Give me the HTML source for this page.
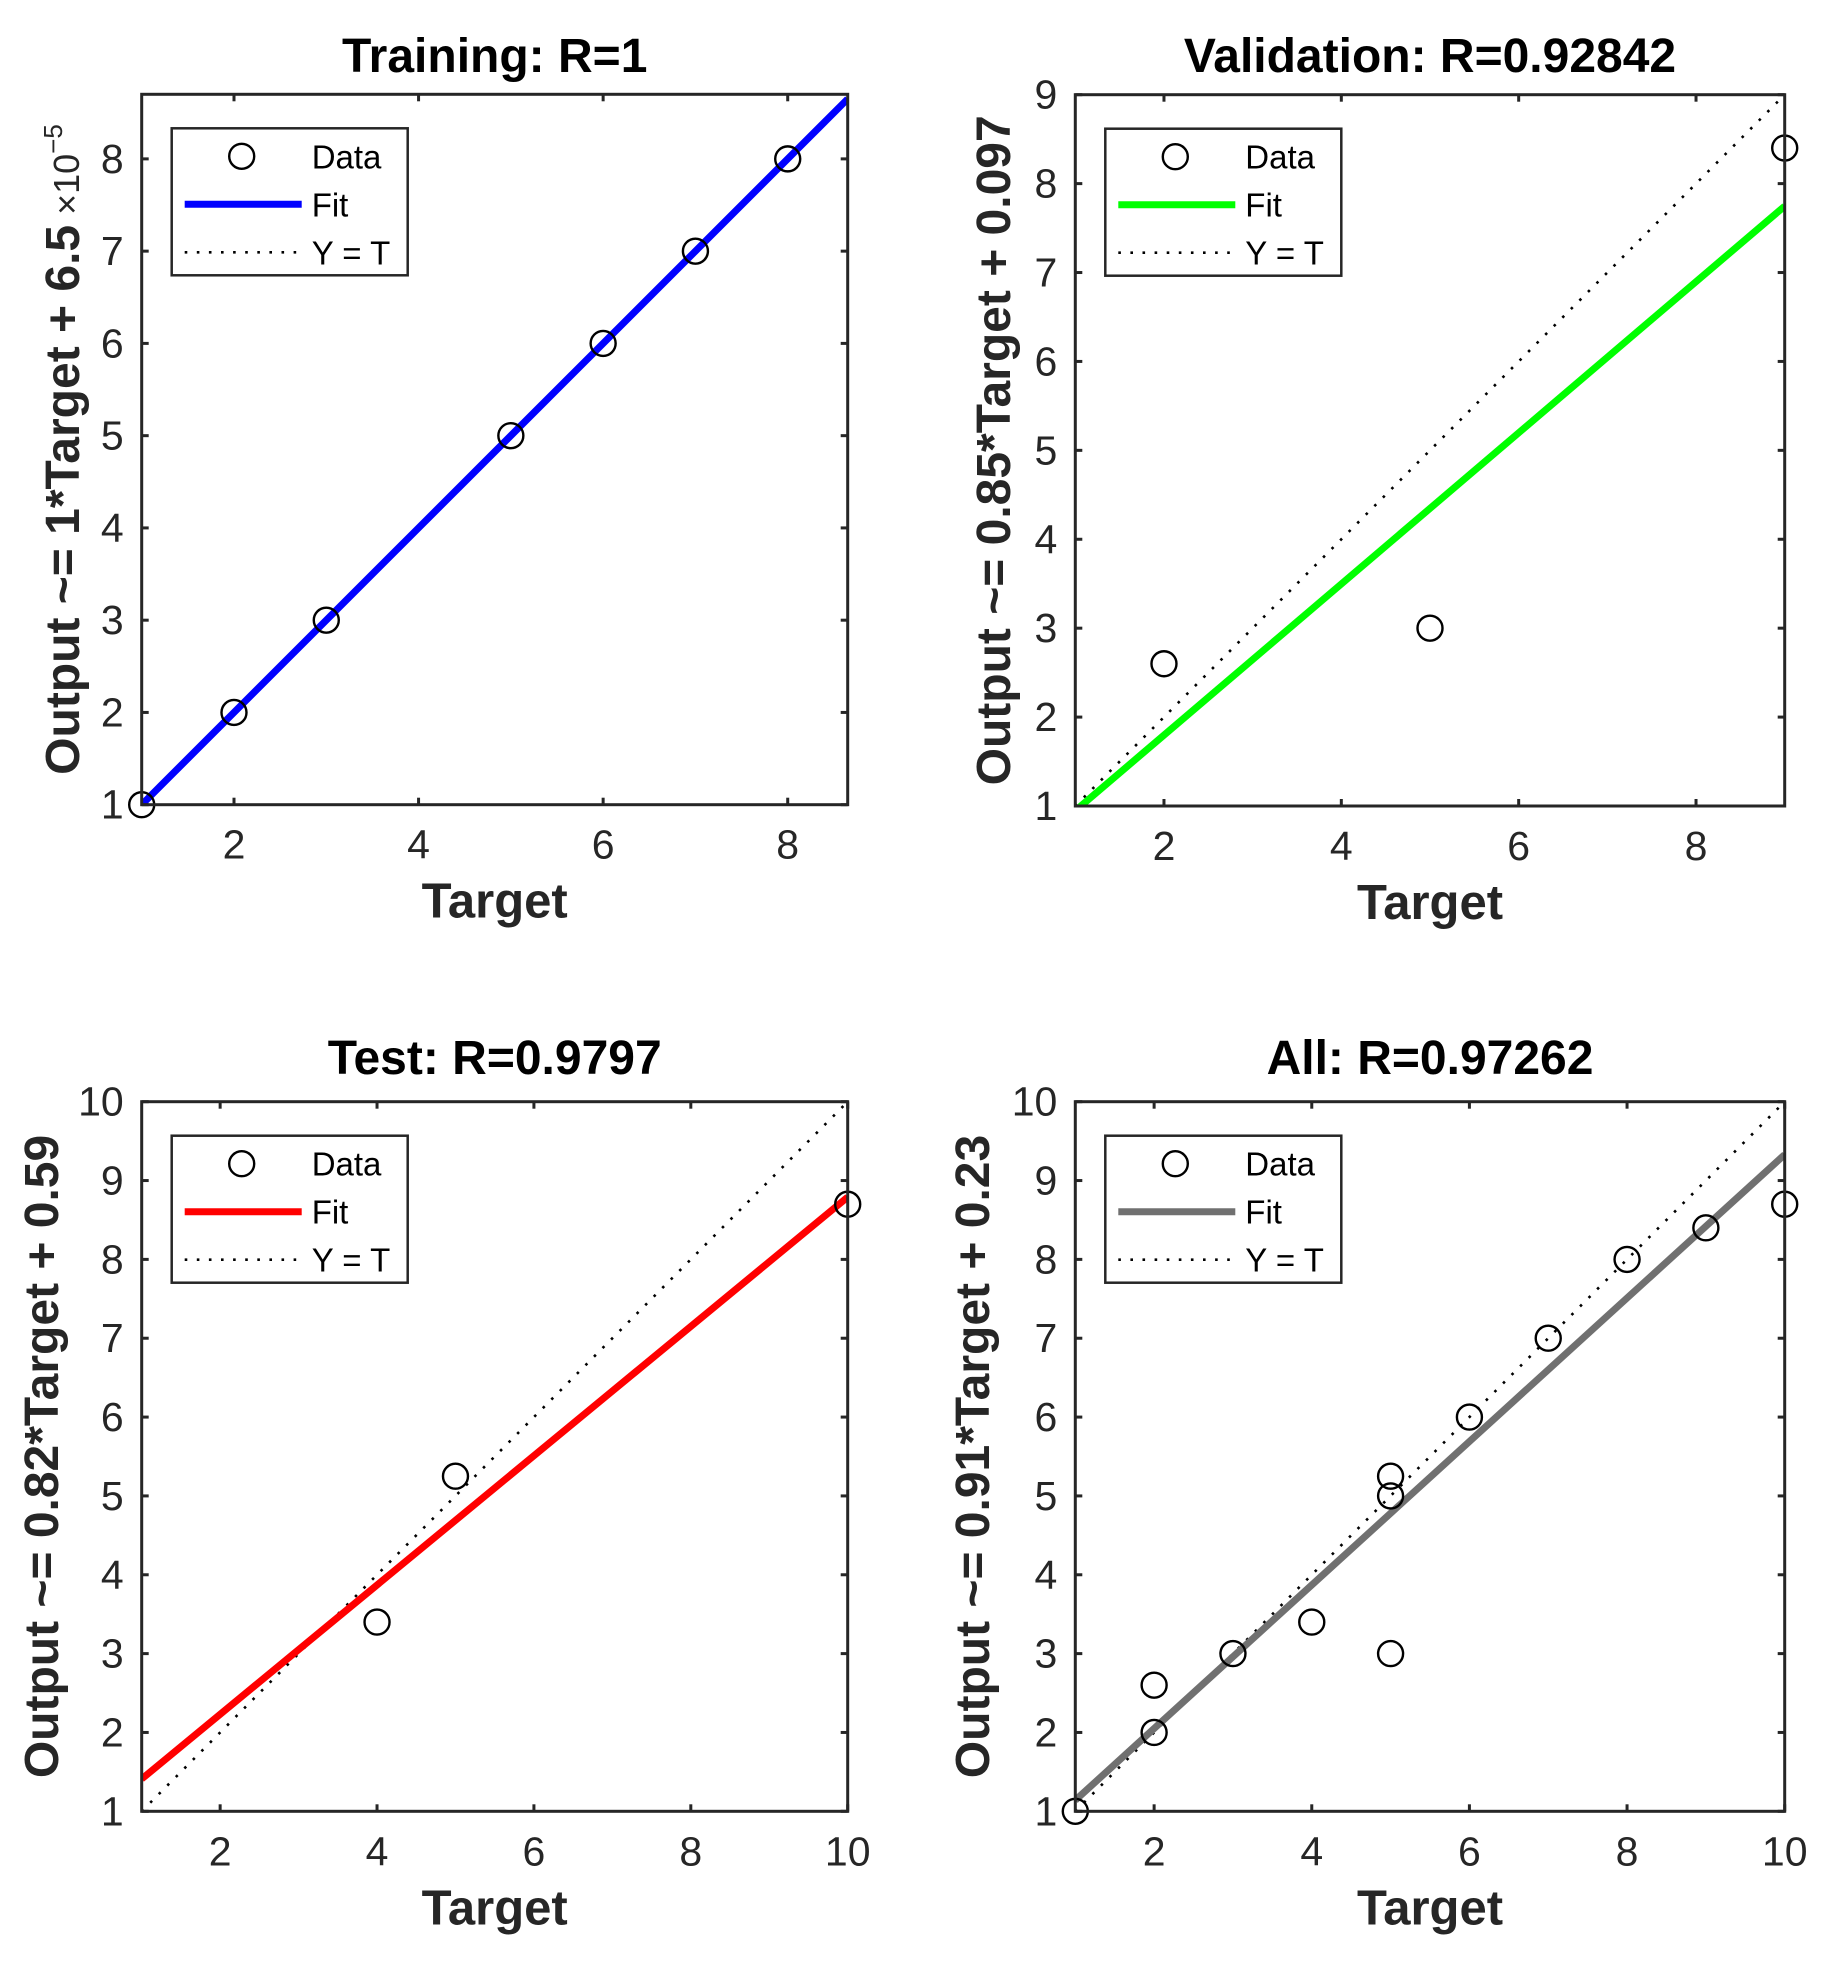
<!DOCTYPE html>
<html><head><meta charset="utf-8">
<style>
html,body{margin:0;padding:0;background:#fff;}
svg{display:block;font-family:"Liberation Sans",Arial,sans-serif;}
</style></head>
<body>
<svg id="fig" width="1831" height="1968" viewBox="0 0 1831 1968" xmlns="http://www.w3.org/2000/svg"></svg>
<script>
// ---- data ----
const trainX = [1,2,3,5,6,7,8];
const trainY = [1,2,3,5,6,7,8];
const valX = [2,5,9];
const valY = [2.6,3,8.4];
const testX = [4,5,10];
const testY = [3.4,5.25,8.7];
const allX = [1,2,2,3,4,5,5,5,6,7,8,9,10];
const allY = [1,2,2.6,3,3.4,3,5,5.25,6,7,8,8.4,8.7];
const fitSlopes = [1,0.85,0.82,0.91];
const fitIntercepts = [0,0.097,0.59,0.23];
const trainXTicks = [2,4,6,8];
const trainYTicks = [1,2,3,4,5,6,7,8];
const valXTicks = [2,4,6,8];
const valYTicks = [1,2,3,4,5,6,7,8,9];
const tenXTicks = [2,4,6,8,10];
const tenYTicks = [1,2,3,4,5,6,7,8,9,10];
const titles = ["Training: R=1","Validation: R=0.92842","Test: R=0.9797","All: R=0.97262"];
const yLabels = ["Output ~= 1*Target + 6.5","Output ~= 0.85*Target + 0.097","Output ~= 0.82*Target + 0.59","Output ~= 0.91*Target + 0.23"];

const NS = "http://www.w3.org/2000/svg";
const svg = document.getElementById('fig');
function mk(tag, attrs, parent, text){
  const e = document.createElementNS(NS, tag);
  for (const k in attrs) e.setAttribute(k, attrs[k]);
  if (text !== undefined) e.textContent = text;
  (parent||svg).appendChild(e);
  return e;
}

const panels = [
  {key:'training', L:141.7,R:847.7,T:94.3,B:804.7, xmin:1,xmax:8.65,ymin:1,ymax:8.7, xs:trainX, ys:trainY, xt:trainXTicks, yt:trainYTicks, color:'#0000ff', ylx:62, titleY:55},
  {key:'validation', L:1075.3,R:1784.7,T:94.7,B:806,xmin:1,xmax:9,ymin:1,ymax:9, xs:valX, ys:valY, xt:valXTicks, yt:valYTicks, color:'#00ff00', ylx:993, titleY:55},
  {key:'test', L:141.7,R:847.7,T:1101.7,B:1811.3,xmin:1,xmax:10,ymin:1,ymax:10, xs:testX, ys:testY, xt:tenXTicks, yt:tenYTicks, color:'#ff0000', ylx:41, titleY:1057},
  {key:'all', L:1075.3,R:1784.7,T:1101.7,B:1811.3,xmin:1,xmax:10,ymin:1,ymax:10, xs:allX, ys:allY, xt:tenXTicks, yt:tenYTicks, color:'#707070', ylx:972, titleY:1057}
];

panels.forEach((p, i) => {
  const g = mk('g', {});
  
  
  const sx = v => p.L + (v - p.xmin) / (p.xmax - p.xmin) * (p.R - p.L);
  const sy = v => p.B - (v - p.ymin) / (p.ymax - p.ymin) * (p.B - p.T);
  const clipId = 'clip' + i;
  const cp = mk('clipPath', {id: clipId}, g);
  mk('rect', {x:p.L, y:p.T, width:p.R-p.L, height:p.B-p.T}, cp);

  // title
  const t = mk('text', {x:(p.L+p.R)/2, y:p.titleY+17, 'text-anchor':'middle', 'font-size':48, 'font-weight':'bold', fill:'#000'}, g, titles[i]);
  
  

  // Y = T dotted line
  const lo = Math.max(p.xmin, p.ymin), hi = Math.min(p.xmax, p.ymax);
  const dl = mk('line', {x1:sx(lo), y1:sy(lo), x2:sx(hi), y2:sy(hi), stroke:'#000', 'stroke-width':2.6, 'stroke-dasharray':'2.6 9.5', 'clip-path':'url(#'+clipId+')'}, g);
  
  

  // fit line
  const m = fitSlopes[i], b = fitIntercepts[i];
  const fl = mk('line', {x1:sx(p.xmin), y1:sy(m*p.xmin+b), x2:sx(p.xmax), y2:sy(m*p.xmax+b), stroke:p.color, 'stroke-width':7, 'clip-path':'url(#'+clipId+')'}, g);
  
  

  // data points
  p.xs.forEach((xv, j) => {
    const c = mk('circle', {cx:sx(xv), cy:sy(p.ys[j]), r:12.5, fill:'none', stroke:'#000', 'stroke-width':2.4}, g);
    
    
  });

  // axes box
  const box = mk('rect', {x:p.L, y:p.T, width:p.R-p.L, height:p.B-p.T, fill:'none', stroke:'#262626', 'stroke-width':3}, g);
  
  

  // ticks
  p.xt.forEach(v => {
    const x = sx(v);
    mk('line', {x1:x, y1:p.B, x2:x, y2:p.B-7, stroke:'#262626', 'stroke-width':3}, g);
    mk('line', {x1:x, y1:p.T, x2:x, y2:p.T+7, stroke:'#262626', 'stroke-width':3}, g);
    const tl = mk('text', {x:x, y:p.B+54, 'text-anchor':'middle', 'font-size':41, fill:'#262626'}, g, String(v));
    
    
  });
  p.yt.forEach(v => {
    const y = sy(v);
    mk('line', {x1:p.L, y1:y, x2:p.L+7, y2:y, stroke:'#262626', 'stroke-width':3}, g);
    mk('line', {x1:p.R, y1:y, x2:p.R-7, y2:y, stroke:'#262626', 'stroke-width':3}, g);
    const tl = mk('text', {x:p.L-18, y:y+14, 'text-anchor':'end', 'font-size':41, fill:'#262626'}, g, String(v));
    
    
  });

  // x label
  const xl = mk('text', {x:(p.L+p.R)/2, y:p.B+113, 'text-anchor':'middle', 'font-size':49, 'font-weight':'bold', fill:'#262626'}, g, 'Target');
  
  

  // y label
  const cy = (p.T + p.B) / 2;
  const yl = mk('text', {x:p.ylx+17, y:cy, 'text-anchor':'middle', 'font-size':48, 'font-weight':'bold', fill:'#262626', transform:'rotate(-90 '+(p.ylx+17)+' '+cy+')'}, g);
  
  
  mk('tspan', {}, yl, yLabels[i]);
  if (i === 0) {
    mk('tspan', {'font-weight':'normal', 'font-size':36}, yl, ' \u00d710');
    mk('tspan', {'font-weight':'normal', 'font-size':26, dy:-17}, yl, '\u22125');
  }

  // legend
  const lx = p.L + 30, ly = p.T + 34;
  const lg = mk('g', {}, g);
  
  
  mk('rect', {x:lx, y:ly, width:236, height:147, fill:'#fff', stroke:'#262626', 'stroke-width':2.5}, lg);
  const e1 = mk('circle', {cx:lx+70, cy:ly+28, r:12.5, fill:'none', stroke:'#000', 'stroke-width':2.4}, lg);
  
  
  mk('text', {x:lx+140, y:ly+40, 'font-size':33, fill:'#000'}, lg, 'Data');
  const e2 = mk('line', {x1:lx+13, y1:ly+76, x2:lx+130, y2:ly+76, stroke:p.color, 'stroke-width':7}, lg);
  
  
  mk('text', {x:lx+140, y:ly+88, 'font-size':33, fill:'#000'}, lg, 'Fit');
  const e3 = mk('line', {x1:lx+13, y1:ly+124, x2:lx+130, y2:ly+124, stroke:'#000', 'stroke-width':2.6, 'stroke-dasharray':'2.6 9.5'}, lg);
  
  
  mk('text', {x:lx+140, y:ly+136, 'font-size':33, fill:'#000'}, lg, 'Y = T');
});
</script>
</body></html>
